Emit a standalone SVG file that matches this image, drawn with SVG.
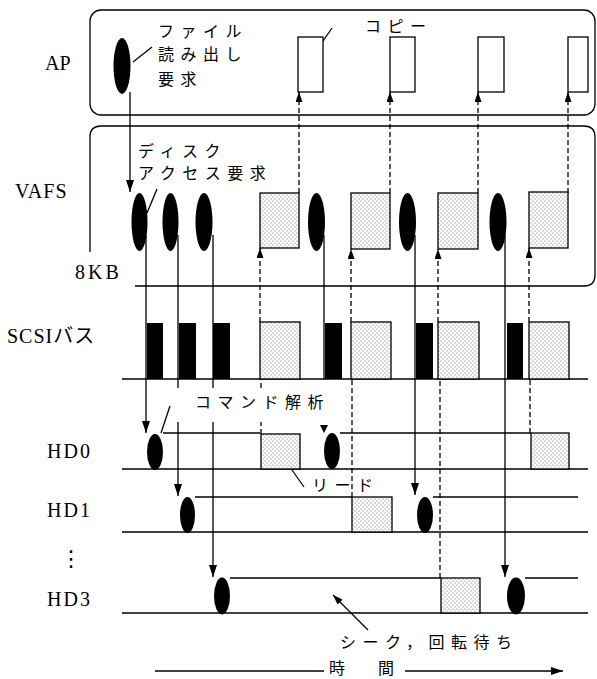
<svg xmlns="http://www.w3.org/2000/svg" width="597" height="679" viewBox="0 0 597 679">
<defs>
<pattern id="dots" width="4" height="4" patternUnits="userSpaceOnUse">
<rect width="4" height="4" fill="#fff"/>
<circle cx="1" cy="1" r="0.55" fill="#555"/>
<circle cx="3" cy="3" r="0.55" fill="#555"/>
</pattern>
<marker id="ah" viewBox="0 0 12 8" refX="12" refY="4" markerWidth="12" markerHeight="8" orient="auto" markerUnits="userSpaceOnUse"><path d="M0,0 L12,4 L0,8 z" fill="#000"/></marker>
<marker id="ahs" viewBox="0 0 10 7" refX="10" refY="3.5" markerWidth="10" markerHeight="7" orient="auto" markerUnits="userSpaceOnUse"><path d="M0,0 L10,3.5 L0,7 z" fill="#000"/></marker>
</defs>
<style>
.ln{stroke:#000;stroke-width:1.3;fill:none}
.dl{stroke:#000;stroke-width:1.3;fill:none;stroke-dasharray:5 3}
.blk{fill:#000}
.buf{fill:url(#dots);stroke:#000;stroke-width:1.3}
.wbox{fill:#fff;stroke:#000;stroke-width:1.3}
.lab{font-family:"Liberation Serif","Noto Sans CJK JP",serif;font-size:20px;fill:#000}
.jp{font-family:"Noto Sans CJK JP",sans-serif;font-size:16px;letter-spacing:6.5px;fill:#000}
</style>
<rect width="597" height="679" fill="#fff"/>

<!-- lanes -->
<g id="lane-ap">
<rect class="ln" x="90" y="10" width="505" height="105" rx="11"/>
<text class="lab" x="45" y="70">AP</text>
</g>
<g id="lane-vafs">
<path class="ln" d="M135,286 H584 Q595,286 595,275 V137 Q595,126 584,126 H101 Q90,126 90,137 V252"/>
<text class="lab" x="15" y="198" letter-spacing="1">VAFS</text>
<text class="lab" x="75" y="279" letter-spacing="3">8KB</text>
</g>
<g id="lane-scsi">
<line class="ln" x1="122" y1="379" x2="588" y2="379"/>
<text class="lab" x="7" y="343" letter-spacing="1">SCSIバス</text>
</g>
<g id="lane-hd0">
<line class="ln" x1="122" y1="469" x2="588" y2="469"/>
<line class="ln" x1="163" y1="433" x2="260" y2="433"/>
<line class="ln" x1="340" y1="433" x2="531" y2="433"/>
<text class="lab" x="47" y="458" letter-spacing="2">HD0</text>
</g>
<g id="lane-hd1">
<line class="ln" x1="122" y1="532" x2="588" y2="532"/>
<line class="ln" x1="195" y1="497" x2="352" y2="497"/>
<line class="ln" x1="433" y1="497" x2="578" y2="497"/>
<text class="lab" x="47" y="517" letter-spacing="2">HD1</text>
</g>
<g id="lane-dots">
<text x="60" y="566" font-family="DejaVu Sans,sans-serif" font-size="22">⋮</text>
</g>
<g id="lane-hd3">
<line class="ln" x1="122" y1="613" x2="588" y2="613"/>
<line class="ln" x1="230" y1="578" x2="441" y2="578"/>
<line class="ln" x1="525" y1="578" x2="578" y2="578"/>
<text class="lab" x="47" y="606" letter-spacing="2">HD3</text>
</g>

<!-- connectors -->
<g id="connectors">
<line class="ln" x1="130" y1="92" x2="130" y2="192" marker-end="url(#ah)"/>
<line class="ln" x1="146" y1="235" x2="146" y2="433" marker-end="url(#ah)"/>
<line class="ln" x1="178" y1="235" x2="178" y2="388"/>
<line class="ln" x1="178" y1="422" x2="178" y2="496" marker-end="url(#ah)"/>
<line class="ln" x1="213" y1="235" x2="213" y2="388"/>
<line class="ln" x1="213" y1="422" x2="213" y2="577" marker-end="url(#ah)"/>
<line class="ln" x1="324" y1="235" x2="324" y2="379"/>
<polygon points="320,425 328,425 324,433" fill="#000"/>
<line class="ln" x1="415" y1="235" x2="415" y2="495" marker-end="url(#ah)"/>
<line class="ln" x1="505" y1="235" x2="505" y2="577" marker-end="url(#ah)"/>
<line class="dl" x1="261" y1="434" x2="261" y2="422"/>
<line class="dl" x1="261" y1="388" x2="261" y2="379"/>
<line class="dl" x1="352" y1="497" x2="352" y2="379"/>
<line class="dl" x1="440" y1="578" x2="440" y2="379"/>
<line class="dl" x1="530" y1="433" x2="530" y2="379"/>
<line class="dl" x1="260" y1="322" x2="260" y2="248" marker-end="url(#ahs)"/>
<line class="dl" x1="351" y1="322" x2="351" y2="249" marker-end="url(#ahs)"/>
<line class="dl" x1="438" y1="322" x2="438" y2="249" marker-end="url(#ahs)"/>
<line class="dl" x1="529" y1="322" x2="529" y2="248" marker-end="url(#ahs)"/>
<line class="dl" x1="299" y1="193" x2="299" y2="92" marker-end="url(#ahs)"/>
<line class="dl" x1="390" y1="193" x2="390" y2="92" marker-end="url(#ahs)"/>
<line class="dl" x1="478" y1="193" x2="478" y2="92" marker-end="url(#ahs)"/>
<line class="dl" x1="568" y1="193" x2="568" y2="92" marker-end="url(#ahs)"/>
<line class="ln" x1="133" y1="62" x2="152" y2="47"/>
<line class="ln" x1="147" y1="213" x2="157" y2="189"/>
<line class="ln" x1="161" y1="433" x2="170" y2="406"/>
<line class="ln" x1="332" y1="28" x2="312" y2="57" marker-end="url(#ahs)"/>
<line class="ln" x1="304" y1="487" x2="280" y2="453" marker-end="url(#ahs)"/>
<line class="ln" x1="368" y1="630" x2="333" y2="595" marker-end="url(#ahs)"/>
<line class="ln" x1="155" y1="671" x2="324" y2="671"/>
<line class="ln" x1="405" y1="671" x2="563" y2="671" marker-end="url(#ah)"/>
</g>

<!-- nodes -->
<g id="ap-read-req"><ellipse class="blk" cx="122" cy="66" rx="8.5" ry="28"/></g>
<g id="ap-copy1"><rect class="wbox" x="298" y="37" width="25" height="55"/></g>
<g id="ap-copy2"><rect class="wbox" x="390" y="37" width="25" height="55"/></g>
<g id="ap-copy3"><rect class="wbox" x="478" y="37" width="26" height="55"/></g>
<g id="ap-copy4"><rect class="wbox" x="568" y="37" width="20" height="55"/></g>

<g id="vafs-req1"><ellipse class="blk" cx="139.5" cy="222" rx="8" ry="29"/></g>
<g id="vafs-req2"><ellipse class="blk" cx="170.5" cy="222" rx="8" ry="29"/></g>
<g id="vafs-req3"><ellipse class="blk" cx="204" cy="222" rx="8.5" ry="29"/></g>
<g id="vafs-req4"><ellipse class="blk" cx="316.5" cy="222" rx="8.5" ry="29"/></g>
<g id="vafs-req5"><ellipse class="blk" cx="407.5" cy="222" rx="8.5" ry="29"/></g>
<g id="vafs-req6"><ellipse class="blk" cx="498" cy="222" rx="8.5" ry="29"/></g>
<g id="vafs-buf1"><rect class="buf" x="260" y="193" width="39" height="55"/></g>
<g id="vafs-buf2"><rect class="buf" x="351" y="193" width="39" height="56"/></g>
<g id="vafs-buf3"><rect class="buf" x="438" y="193" width="40" height="56"/></g>
<g id="vafs-buf4"><rect class="buf" x="529" y="192" width="39" height="56"/></g>

<g id="scsi-cmd1"><rect class="blk" x="147" y="323" width="16" height="56"/></g>
<g id="scsi-cmd2"><rect class="blk" x="179" y="323" width="17" height="56"/></g>
<g id="scsi-cmd3"><rect class="blk" x="213" y="323" width="17" height="56"/></g>
<g id="scsi-cmd4"><rect class="blk" x="325" y="323" width="17" height="56"/></g>
<g id="scsi-cmd5"><rect class="blk" x="416" y="323" width="17" height="56"/></g>
<g id="scsi-cmd6"><rect class="blk" x="507" y="323" width="16" height="56"/></g>
<g id="scsi-data1"><rect class="buf" x="260" y="322" width="40" height="57"/></g>
<g id="scsi-data2"><rect class="buf" x="351" y="322" width="40" height="57"/></g>
<g id="scsi-data3"><rect class="buf" x="438" y="322" width="41" height="57"/></g>
<g id="scsi-data4"><rect class="buf" x="529" y="322" width="40" height="57"/></g>

<g id="hd0-cmd1"><ellipse class="blk" cx="155" cy="452" rx="8" ry="18"/></g>
<g id="hd0-read1"><rect class="buf" x="261" y="434" width="39" height="35"/></g>
<g id="hd0-cmd2"><ellipse class="blk" cx="332" cy="451" rx="8" ry="18"/></g>
<g id="hd0-read2"><rect class="buf" x="531" y="433" width="38" height="36"/></g>
<g id="hd1-cmd1"><ellipse class="blk" cx="187.5" cy="515" rx="7.5" ry="18"/></g>
<g id="hd1-read1"><rect class="buf" x="352" y="497" width="40" height="35"/></g>
<g id="hd1-cmd2"><ellipse class="blk" cx="425" cy="515" rx="8" ry="18"/></g>
<g id="hd3-cmd1"><ellipse class="blk" cx="222" cy="596" rx="8" ry="18.5"/></g>
<g id="hd3-read1"><rect class="buf" x="441" y="578" width="39" height="35"/></g>
<g id="hd3-cmd2"><ellipse class="blk" cx="516" cy="596" rx="9" ry="18.5"/></g>

<!-- labels -->
<g id="label-read-req">
<text class="jp" x="158" y="37">ファイル</text>
<text class="jp" x="158" y="60">読み出し</text>
<text class="jp" x="158" y="85">要求</text>
</g>
<g id="label-copy"><text class="jp" x="365" y="32" letter-spacing="5">コピー</text></g>
<g id="label-disk-req">
<text class="jp" x="138" y="157">ディスク</text>
<text class="jp" x="138" y="179">アクセス要求</text>
</g>
<g id="label-cmd"><text class="jp" x="195" y="408">コマンド解析</text></g>
<g id="label-read"><text class="jp" x="312" y="491">リード</text></g>
<g id="label-seek"><text class="jp" x="340" y="648">シーク，回転待ち</text></g>
<g id="label-time">
<text class="jp" x="329" y="674" font-size="18" letter-spacing="0">時</text>
<text class="jp" x="378" y="674" font-size="18" letter-spacing="0">間</text>
</g>
</svg>
